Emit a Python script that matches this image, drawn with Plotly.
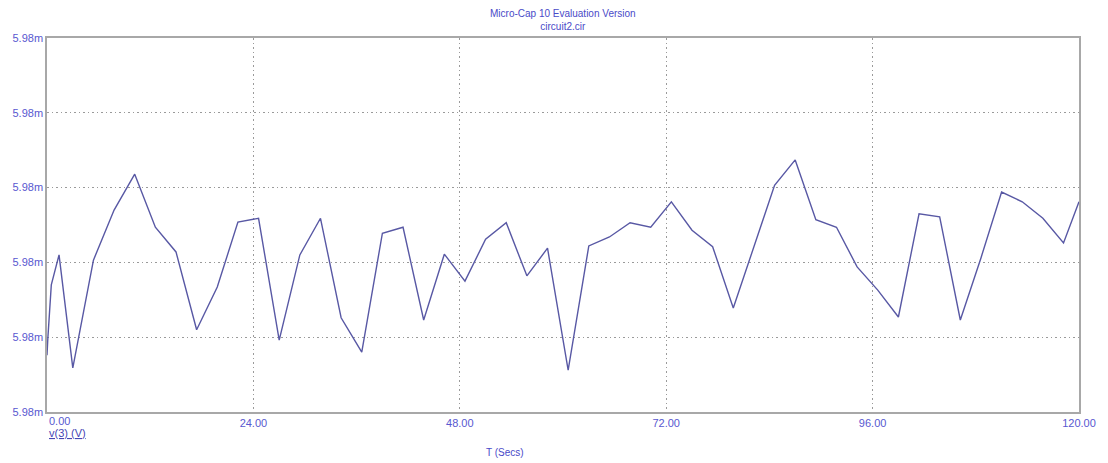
import plotly.graph_objects as go

# Transient analysis of node v(3) from circuit2.cir
time_s = [0.0, 0.1, 0.5, 1.4, 3.0, 5.4, 7.8, 10.2, 12.6, 15.0, 17.4, 19.8, 22.2, 24.6,
          27.0, 29.4, 31.8, 34.2, 36.6, 39.0, 41.4, 43.8, 46.2, 48.6, 51.0, 53.4,
          55.8, 58.2, 60.6, 63.0, 65.4, 67.8, 70.2, 72.6, 75.0, 77.4, 79.8, 82.2,
          84.6, 87.0, 89.4, 91.8, 94.2, 96.6, 99.0, 101.4, 103.8, 106.2, 108.6,
          111.0, 113.4, 115.8, 118.2, 120.0]
v3_mV = [5.980076, 5.980099, 5.980170, 5.980210, 5.980059, 5.980203, 5.980270,
         5.980318, 5.980247, 5.980214, 5.980110, 5.980167, 5.980254, 5.980259,
         5.980096, 5.980210, 5.980259, 5.980126, 5.980080, 5.980239, 5.980247,
         5.980123, 5.980211, 5.980175, 5.980231, 5.980253, 5.980182, 5.980219,
         5.980056, 5.980222, 5.980234, 5.980253, 5.980247, 5.980281, 5.980243,
         5.980221, 5.980139, 5.980221, 5.980303, 5.980337, 5.980257, 5.980247,
         5.980194, 5.980163, 5.980127, 5.980265, 5.980261, 5.980123, 5.980206,
         5.980294, 5.980281, 5.980259, 5.980226, 5.980281]

y_ticks = [5.9800, 5.9801, 5.9802, 5.9803, 5.9804, 5.9805]
y_tick_text = ["5.98m"] * len(y_ticks)
x_ticks = [0, 24, 48, 72, 96, 120]
x_tick_text = ["", "24.00", "48.00", "72.00", "96.00", "120.00"]

FONT = "Liberation Sans, Arial, sans-serif"
TEXT_BLUE = "#4a4ac8"
TICK_BLUE = "#5858d0"
FRAME = "#a8a8a8"
GRID = "#9a9a9a"
DOTS = "1.5px,3px"

fig = go.Figure()
fig.add_trace(go.Scatter(
    x=time_s, y=v3_mV, mode="lines",
    line=dict(color="#5858a4", width=1.4),
    showlegend=False, hoverinfo="skip",
))

fig.update_layout(
    width=1108, height=463,
    margin=dict(l=47, r=25, t=38, b=51),
    paper_bgcolor="white", plot_bgcolor="white",
    font=dict(family=FONT, size=11, color=TICK_BLUE),
)

fig.update_xaxes(
    range=[0, 120], tickmode="array", tickvals=x_ticks, ticktext=x_tick_text,
    showgrid=True, gridcolor=GRID, griddash=DOTS, gridwidth=1,
    showline=True, linecolor=FRAME, linewidth=1.5, mirror=True,
    ticks="", zeroline=False,
    tickfont=dict(family=FONT, size=11, color=TICK_BLUE),
)
fig.update_yaxes(
    range=[y_ticks[0], y_ticks[-1]], tickmode="array", tickvals=y_ticks,
    ticktext=y_tick_text,
    showgrid=True, gridcolor=GRID, griddash=DOTS, gridwidth=1,
    showline=True, linecolor=FRAME, linewidth=1.5, mirror=True,
    ticks="", zeroline=False,
    tickfont=dict(family=FONT, size=11, color=TICK_BLUE),
)

# Two-line heading above the plot frame
fig.add_annotation(
    x=0.5, xref="paper", y=1, yref="paper", xanchor="center", yanchor="bottom",
    yshift=4, text="Micro-Cap 10 Evaluation Version<br>circuit2.cir",
    showarrow=False, font=dict(family=FONT, size=10, color=TEXT_BLUE),
)

# First x label sits to the right of the origin, clear of the y labels
fig.add_annotation(
    x=x_ticks[0], xref="x", y=0, yref="paper", yanchor="top", xanchor="left",
    yshift=-1, text="0.00", showarrow=False,
    font=dict(family=FONT, size=11, color=TICK_BLUE),
)
fig.add_annotation(
    x=x_ticks[0], xref="x", y=0, yref="paper", yanchor="top", xanchor="left",
    yshift=-13, text="<u>v(3) (V)</u>", showarrow=False,
    font=dict(family=FONT, size=11, color="#4646b4"),
)
fig.add_annotation(
    x=0.444, xref="paper", y=0, yref="paper", yanchor="top", xanchor="center",
    yshift=-33, text="T (Secs)", showarrow=False,
    font=dict(family=FONT, size=10, color=TEXT_BLUE),
)

fig.write_html("out.html")
